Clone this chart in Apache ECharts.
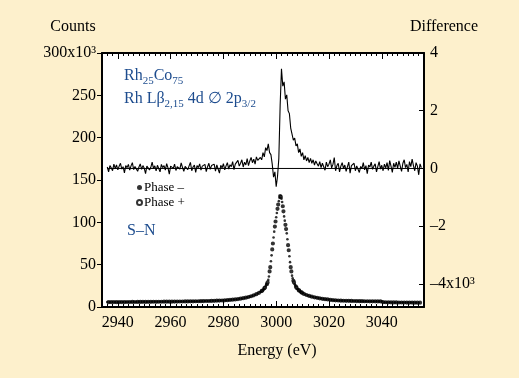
<!DOCTYPE html>
<html><head><meta charset="utf-8">
<script src="https://cdn.jsdelivr.net/npm/echarts@6/dist/echarts.min.js"></script>
<style>html,body{margin:0;padding:0;background:#fdf0cc;} #c{width:522px;height:378px;}</style>
</head><body><div id="c"></div>
<script>
// ---- tick labels ----
const xTickLabels = [2940, 2960, 2980, 3000, 3020, 3040];
const countTickLabels = {0:'0', 50:'50', 100:'100', 150:'150', 200:'200', 250:'250', 300:'300x10\u00B3'};
const diffTickLabels = {'-4':'\u20134x10\u00B3', '-2':'\u20132', '0':'0', '2':'2', '4':'4'};

// ---- counts (x10^3), Phase – on integer energies from 2936 eV, step 1 eV ----
const phaseMinusStart = 2936, phaseMinusStep = 1;
const phaseMinus = [
  5.8,5.7,5.8,5.8,5.7,5.8,5.9,5.8,5.9,5.9,
  6.0,5.9,6.0,6.0,6.1,6.0,6.1,6.1,6.2,6.1,
  6.2,6.2,6.3,6.2,6.3,6.3,6.4,6.4,6.5,6.5,
  6.6,6.6,6.7,6.7,6.8,6.9,6.9,7.0,7.1,7.2,
  7.3,7.4,7.5,7.7,7.8,8.0,8.2,8.5,8.8,9.2,
  9.6,10.1,10.7,11.4,12.2,13.2,14.4,15.9,17.7,20.0,
  24.5,32,54,82,106,125,128,107,87,60,
  37,27,21.5,18.5,16.3,14.8,13.6,12.6,11.8,11.1,
  10.5,10.0,9.5,9.1,8.8,8.3,8.0,7.8,7.6,7.5,
  7.4,7.3,7.2,7.1,7.0,7.0,6.9,6.9,6.8,6.8,
  6.7,6.7,6.7,6.6,6.6,5.6,5.5,5.5,5.4,5.4,
  5.4,5.3,5.3,5.3,5.2,5.2,5.2,5.1,5.1
];
// Phase – extra points around the peak, from 2994.25 eV, step 1 eV
const phaseMinusPeakStart = 2994.25, phaseMinusPeakStep = 1;
const phaseMinusPeak = [18.3,21,26.5,36,61,89,111,129,124,102,80,53,34,25.5,20.7,17.9];

// ---- Phase + on half-integer energies from 2936.5 eV, step 1 eV ----
const phasePlusStart = 2936.5, phasePlusStep = 1;
const phasePlus = [
  5.7,5.8,5.8,5.7,5.8,5.8,5.8,5.9,5.9,6.0,
  5.9,6.0,6.0,6.1,6.0,6.1,6.1,6.2,6.1,6.2,
  6.2,6.3,6.3,6.3,6.3,6.4,6.4,6.5,6.5,6.6,
  6.6,6.7,6.7,6.8,6.8,6.9,7.0,7.1,7.1,7.2,
  7.3,7.5,7.6,7.7,7.9,8.1,8.4,8.6,9.0,9.4,
  9.8,10.4,11.0,11.8,12.7,13.8,15.1,16.8,18.8,22,
  27,42,68,95,116,131,119,97,73,47,
  31,24,20,17.3,15.5,14.2,13.1,12.2,11.4,10.8,
  10.2,9.7,9.3,9.0,8.5,8.1,7.9,7.7,7.5,7.4,
  7.3,7.3,7.2,7.1,7.0,6.9,6.9,6.8,6.8,6.7,
  6.7,6.7,6.6,6.6,5.7,5.6,5.5,5.5,5.4,5.4,
  5.3,5.3,5.3,5.2,5.2,5.2,5.1,5.1,5.1
];
// Phase + extra points around the peak, from 2994.75 eV, step 1 eV
const phasePlusPeakStart = 2994.75, phasePlusPeakStep = 1;
const phasePlusPeak = [19.5,23,29,47,75,101,121,130,113,92,67,42,29,22.5,19.3,17];

// ---- difference (x10^3) from 2936 eV, step 0.5 eV ----
const diffStart = 2936, diffStep = 0.5;
const difference = [
  0.05,-0.12,0.1,0.02,-0.08,0.15,0.0,0.12,-0.05,0.08,
  0.18,-0.02,0.06,-0.15,0.1,0.03,0.14,-0.06,0.09,0.2,
  -0.04,0.07,0.12,-0.1,0.05,0.16,-0.03,0.1,0.01,-0.18,
  0.08,0.13,-0.05,0.04,0.22,0.0,0.09,-0.08,0.11,0.05,
  -0.12,0.14,0.03,0.1,-0.06,0.17,0.02,-0.2,0.08,0.12,
  0.0,0.15,-0.07,0.06,0.11,-0.02,0.19,0.04,-0.1,0.07,
  0.13,-0.04,0.09,0.21,-0.08,0.05,0.12,-0.14,0.1,0.03,
  0.16,-0.06,0.08,0.02,0.14,-0.11,0.06,0.18,-0.03,0.1,
  0.04,0.15,-0.09,0.12,0.07,-0.16,0.11,0.02,0.17,-0.05,
  0.09,0.2,-0.02,0.13,0.06,0.24,-0.04,0.15,0.1,0.28,
  0.08,0.18,0.3,0.05,0.22,0.12,0.34,0.1,0.26,0.38,
  0.2,0.32,0.15,0.4,0.28,0.22,0.38,0.3,0.55,0.4,
  0.72,0.62,0.85,0.55,0.48,0.15,-0.3,-0.12,-0.63,-0.28,
  0.35,2.2,3.45,2.85,3.0,2.4,2.55,2.0,1.9,1.4,
  1.35,0.98,1.05,0.78,0.85,0.55,0.68,0.42,0.55,0.3,
  0.44,0.26,0.38,0.2,0.35,0.18,0.3,0.12,0.26,0.16,
  0.08,0.24,0.03,0.18,0.12,-0.06,0.22,0.06,0.15,0.3,
  0.02,0.14,0.38,-0.08,0.1,0.18,-0.12,0.08,0.2,0.0,
  0.12,-0.1,0.06,0.22,-0.16,0.1,0.04,0.18,-0.08,0.09,
  0.15,-0.14,0.07,0.0,0.2,-0.05,0.1,-0.18,0.12,0.05,
  0.22,-0.03,0.08,0.16,-0.12,0.06,0.24,-0.02,0.11,-0.08,
  0.15,0.02,0.2,-0.07,0.27,0.08,-0.14,0.18,0.04,0.22,
  0.0,0.26,0.08,-0.1,0.18,0.3,0.03,0.14,-0.12,0.24,
  0.06,0.32,0.1,-0.08,0.2,0.08,-0.22,0.16,0.03
];
const zeroLine = [[2936, 0], [3056, 0]];

const SERIF = '"Liberation Serif","DejaVu Serif",serif';
const BLUE = '#1d4c8e';
const toPairs = (arr, start, step) => arr.map((v, i) => [start + i * step, v]);

const chart = echarts.init(document.getElementById('c'), null, {renderer: 'canvas'});
const baseX = {
  type: 'value', min: 2934, max: 3056, splitNumber: 5,
  axisLine: {show: true, onZero: false, lineStyle: {color: '#000', width: 2}},
  axisTick: {show: true, inside: true, length: 6, lineStyle: {color: '#000', width: 1}},
  minorTick: {show: true, splitNumber: 10, length: 3, lineStyle: {color: '#000', width: 1}},
  splitLine: {show: false}
};
chart.setOption({
  animation: false,
  backgroundColor: '#fdf0cc',
  grid: {left: 102, top: 53, width: 322, height: 254, show: true, backgroundColor: '#fff', borderWidth: 0},
  xAxis: [
    Object.assign({}, baseX, {position: 'bottom',
      axisLabel: {show: true, margin: 8, fontFamily: SERIF, fontSize: 16, color: '#000',
        formatter: v => xTickLabels.indexOf(Math.round(v * 1000) / 1000) >= 0 ? String(v) : ''}}),
    Object.assign({}, baseX, {position: 'top', axisLabel: {show: false}})
  ],
  yAxis: [
    {type: 'value', position: 'left', min: 0, max: 300, interval: 50,
      axisLine: {show: true, onZero: false, lineStyle: {color: '#000', width: 2}},
      axisTick: {show: true, inside: false, length: 5, lineStyle: {color: '#000', width: 1}},
      axisLabel: {margin: 6, fontFamily: SERIF, fontSize: 16, color: '#000',
        formatter: v => countTickLabels[v] !== undefined ? countTickLabels[v] : ''},
      splitLine: {show: false}},
    {type: 'value', position: 'right', min: -4.8, max: 4, splitNumber: 5,
      axisLine: {show: true, onZero: false, lineStyle: {color: '#000', width: 2}},
      axisTick: {show: true, inside: true, length: 5, lineStyle: {color: '#000', width: 1}},
      axisLabel: {margin: 6, fontFamily: SERIF, fontSize: 16, color: '#000',
        formatter: v => { const k = String(Math.round(v * 1000) / 1000); return diffTickLabels[k] !== undefined ? diffTickLabels[k] : ''; }},
      splitLine: {show: false}}
  ],
  legend: {
    orient: 'vertical', left: 136, top: 181, itemWidth: 5, itemHeight: 5, itemGap: 2,
    padding: 0,
    textStyle: {fontFamily: SERIF, fontSize: 13, color: '#000', padding: [0, 0, 0, -3]},
    data: [{name: 'Phase \u2013', icon: 'circle'}, {name: 'Phase +', icon: 'emptyCircle'}]
  },
  series: [
    {name: 'zero', type: 'line', xAxisIndex: 0, yAxisIndex: 1, data: zeroLine, showSymbol: false,
      lineStyle: {color: '#000', width: 1}, silent: true},
    {name: 'Difference', type: 'line', xAxisIndex: 0, yAxisIndex: 1, data: toPairs(difference, diffStart, diffStep),
      showSymbol: false, lineStyle: {color: '#000', width: 1.1}, silent: true},
    {name: 'Phase +', type: 'scatter', xAxisIndex: 0, yAxisIndex: 0,
      data: toPairs(phasePlus, phasePlusStart, phasePlusStep).concat(toPairs(phasePlusPeak, phasePlusPeakStart, phasePlusPeakStep)),
      symbol: 'emptyCircle', symbolSize: 2.2, itemStyle: {color: '#000', borderWidth: 0.8}},
    {name: 'Phase \u2013', type: 'scatter', xAxisIndex: 0, yAxisIndex: 0,
      data: toPairs(phaseMinus, phaseMinusStart, phaseMinusStep).concat(toPairs(phaseMinusPeak, phaseMinusPeakStart, phaseMinusPeakStep)),
      symbol: 'circle', symbolSize: 2.6, itemStyle: {color: '#000'}}
  ],
  graphic: [
    {type: 'rect', left: 519, top: 0, shape: {width: 3, height: 378}, style: {fill: '#fff'}},
    {type: 'text', x: 73, y: 27, style: {text: 'Counts', font: '16px ' + SERIF, fill: '#000', align: 'center', verticalAlign: 'middle'}},
    {type: 'text', x: 444, y: 27, style: {text: 'Difference', font: '16px ' + SERIF, fill: '#000', align: 'center', verticalAlign: 'middle'}},
    {type: 'text', x: 277, y: 351, style: {text: 'Energy (eV)', font: '16px ' + SERIF, fill: '#000', align: 'center', verticalAlign: 'middle'}},
    {type: 'text', x: 124, y: 76, style: {
      text: '{a|Rh}{s|25}{a|Co}{s|75}', align: 'left', verticalAlign: 'middle',
      rich: {a: {fontFamily: SERIF, fontSize: 16, fill: BLUE, lineHeight: 22, verticalAlign: 'middle'},
             s: {fontFamily: SERIF, fontSize: 11, fill: BLUE, lineHeight: 12, verticalAlign: 'bottom'}}}},
    {type: 'text', x: 124, y: 99, style: {
      text: '{a|Rh L\u03B2}{s|2,15}{a| 4d \u2205 2p}{s|3/2}', align: 'left', verticalAlign: 'middle',
      rich: {a: {fontFamily: SERIF, fontSize: 16, fill: BLUE, lineHeight: 22, verticalAlign: 'middle'},
             s: {fontFamily: SERIF, fontSize: 11, fill: BLUE, lineHeight: 12, verticalAlign: 'bottom'}}}},
    {type: 'text', x: 127, y: 231, style: {text: 'S\u2013N', font: '16px ' + SERIF, fill: BLUE, align: 'left', verticalAlign: 'middle'}}
  ]
});
</script></body></html>
